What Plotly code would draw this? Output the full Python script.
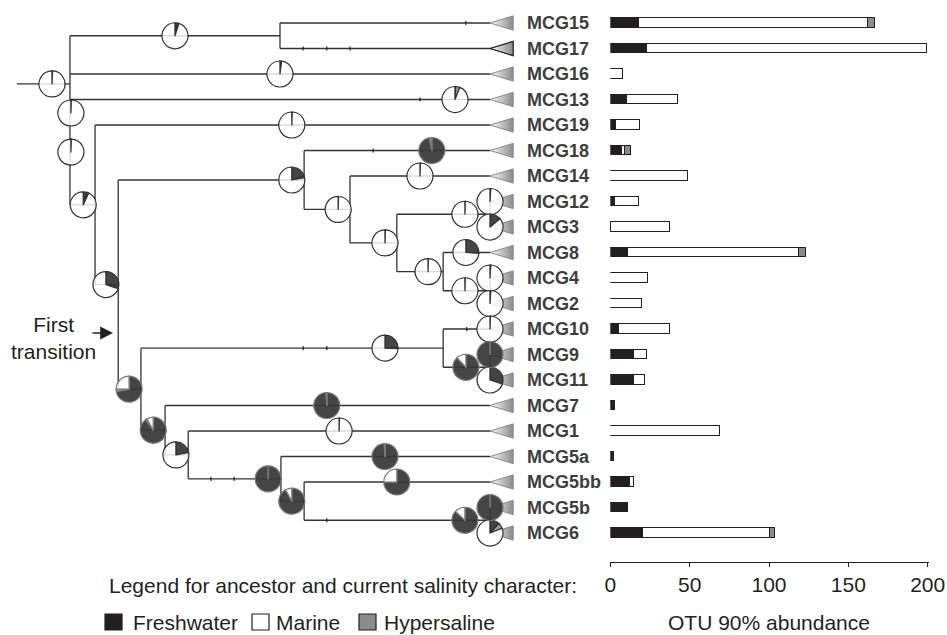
import plotly.graph_objects as go

# ---------------- data ----------------
labels = ["MCG15", "MCG17", "MCG16", "MCG13", "MCG19", "MCG18", "MCG14", "MCG12", "MCG3",
          "MCG8", "MCG4", "MCG2", "MCG10", "MCG9", "MCG11", "MCG7", "MCG1", "MCG5a",
          "MCG5bb", "MCG5b", "MCG6"]
freshwater = [18, 23, 0, 11, 4, 7.4, 0, 3.4, 0.5, 11.3, 0, 0, 5.5, 15, 15, 3.4, 0, 2.3, 12.4, 11.3, 20.8]
marine = [144.5, 177, 8, 32, 15, 1.9, 49, 15, 37.3, 108, 24, 20, 32.5, 8, 7, 0, 69.5, 0, 2.7, 0, 80.2]
hypersaline = [4.3, 0, 0, 0, 0, 4.2, 0, 0, 0, 4.5, 0, 0, 0, 0, 0, 0, 0, 0, 0, 0, 2.8]

# tree topology: child -> parent ; internal node depth (0 = root stub, 1 = tips)
parent = {
    "n70": "root",
    "n280": "n70", "MCG15": "n280", "MCG17": "n280",
    "MCG16": "n70", "MCG13": "n70", "n95": "n70",
    "MCG19": "n95", "n118": "n95",
    "n304a": "n118", "n141": "n118",
    "MCG18": "n304a", "n350": "n304a",
    "MCG14": "n350", "n397": "n350",
    "n490a": "n397", "n443": "n397",
    "MCG12": "n490a", "MCG3": "n490a",
    "MCG8": "n443", "n490b": "n443",
    "MCG4": "n490b", "MCG2": "n490b",
    "n443b": "n141", "n165": "n141",
    "MCG10": "n443b", "n490c": "n443b",
    "MCG9": "n490c", "MCG11": "n490c",
    "MCG7": "n165", "n188": "n165",
    "MCG1": "n188", "n281": "n188",
    "MCG5a": "n281", "n304b": "n281",
    "MCG5bb": "n304b", "n490d": "n304b",
    "MCG5b": "n490d", "MCG6": "n490d",
}
depth = {"root": 0.0, "n70": 0.112, "n280": 0.556, "n95": 0.165, "n118": 0.214, "n304a": 0.607,
         "n350": 0.704, "n397": 0.803, "n490a": 1.0, "n443": 0.901, "n490b": 1.0, "n141": 0.262,
         "n443b": 0.901, "n490c": 1.0, "n165": 0.313, "n188": 0.362, "n281": 0.558,
         "n304b": 0.607, "n490d": 1.0}
root_row = 2.39

# small tick marks along branches: (node whose branch, depth)
branch_ticks = [("MCG15", 0.949), ("MCG17", 0.605), ("MCG17", 0.655), ("MCG17", 0.704),
                ("MCG13", 0.852), ("MCG18", 0.753), ("MCG10", 0.951), ("n443b", 0.605),
                ("n443b", 0.655), ("n281", 0.410), ("n281", 0.459), ("n490d", 0.655)]

# ancestral / current salinity pies: (node or row, depth on branch, freshwater, hypersaline)
pies = [
    ("n70", 0.074, 0.0, 0.008), ("n280", 0.334, 0.03, 0.02), ("MCG16", 0.556, 0.005, 0.015),
    ("MCG13", 0.926, 0.01, 0.05), (3.53, 0.114, 0.0, 0.005), (5.06, 0.114, 0.0, 0.005),
    ("n95", 0.140, 0.05, 0.02), ("MCG19", 0.581, 0.005, 0.0), ("n304a", 0.581, 0.2, 0.02),
    ("MCG18", 0.877, 0.97, 0.03), ("MCG14", 0.852, 0.005, 0.0), ("n350", 0.679, 0.005, 0.0),
    ("n397", 0.778, 0.005, 0.0), ("n490a", 0.947, 0.005, 0.0), ("MCG12", 1.0, 0.0, 0.01),
    ("MCG3", 1.0, 0.13, 0.01), ("n443", 0.869, 0.005, 0.0), ("MCG8", 0.949, 0.25, 0.01),
    ("n490b", 0.947, 0.005, 0.0), ("MCG4", 1.0, 0.01, 0.0), ("MCG2", 1.0, 0.01, 0.0),
    ("n443b", 0.778, 0.25, 0.005), ("n490c", 0.949, 0.88, 0.0), ("MCG10", 1.0, 0.005, 0.0),
    ("MCG11", 1.0, 0.3, 0.0), ("MCG9", 1.0, 1.0, 0.0), ("MCG7", 0.655, 0.99, 0.01),
    ("n141", 0.237, 0.72, 0.03), ("n118", 0.188, 0.3, 0.0), ("n165", 0.288, 0.9, 0.02),
    ("n188", 0.336, 0.22, 0.0), ("MCG1", 0.681, 0.005, 0.0), ("n281", 0.531, 1.0, 0.0),
    ("n304b", 0.581, 0.92, 0.0), ("MCG5a", 0.778, 0.99, 0.01), ("MCG5bb", 0.803, 0.75, 0.0),
    ("n490d", 0.947, 0.87, 0.0), ("MCG6", 1.0, 0.12, 0.07), ("MCG5b", 1.0, 1.0, 0.0),
]

# ---------------- layout constants ----------------
W, H = 947, 635
ROW0_PX, ROW_PX, PLOT_BOTTOM_PX = 23.0, 25.5, 562.0
TREE_PX0, TREE_PX1 = 17.0, 490.0
BAR_PX0, BAR_PX_PER_UNIT = 610.3, 1.587
BAR_MAX = 201
PIE_R = 13
INK = "#231f20"
FONT = "Liberation Sans, Arial, Helvetica, sans-serif"

y_range = [(PLOT_BOTTOM_PX - ROW0_PX) / ROW_PX, -ROW0_PX / ROW_PX]
tree_span = TREE_PX1 - TREE_PX0
x2_range = [-TREE_PX0 / tree_span, (W - TREE_PX0) / tree_span]
bar_domain = [BAR_PX0 / W, (BAR_PX0 + BAR_MAX * BAR_PX_PER_UNIT) / W]

# ---------------- tree geometry ----------------
rows = {lab: i for i, lab in enumerate(labels)}
children = {}
for c, p in parent.items():
    children.setdefault(p, []).append(c)


def node_row(n):
    if n in rows:
        return rows[n]
    if n == "n70":
        return root_row
    ch = children[n]
    return sum(node_row(c) for c in ch) / len(ch)


def node_depth(n):
    return depth.get(n, 1.0)


lx, ly = [], []
for c, p in parent.items():
    r = node_row(c)
    lx += [node_depth(p), node_depth(c), None]
    ly += [r, r, None]
for p, ch in children.items():
    if p == "root":
        continue
    rr = [node_row(c) for c in ch]
    lx += [node_depth(p), node_depth(p), None]
    ly += [min(rr), max(rr), None]

fig = go.Figure()
fig.add_trace(go.Scatter(x=lx, y=ly, mode="lines", xaxis="x2", yaxis="y",
                         line=dict(color="#333333", width=1.3), hoverinfo="skip", showlegend=False))
fig.add_trace(go.Scatter(x=[d for _, d in branch_ticks], y=[node_row(n) for n, _ in branch_ticks],
                         mode="markers", xaxis="x2", yaxis="y",
                         marker=dict(symbol="line-ns", size=3, line=dict(color="#222222", width=1.2)),
                         hoverinfo="skip", showlegend=False))

# clade triangles
tx, ty = [], []
for i, lab in enumerate(labels):
    tx += [1.0, 1.049, 1.049, 1.0, None]
    ty += [i, i - 0.28, i + 0.28, i, None]
fig.add_trace(go.Scatter(x=tx, y=ty, mode="lines", fill="toself", xaxis="x2", yaxis="y",
                         fillgradient=dict(type="horizontal",
                                           colorscale=[[0, "#ffffff"], [1, "#8a8a8a"]]),
                         line=dict(color="#8a8a8a", width=1), hoverinfo="skip", showlegend=False))
i17 = labels.index("MCG17")
fig.add_trace(go.Scatter(x=[1.0, 1.049, 1.049, 1.0], y=[i17, i17 - 0.28, i17 + 0.28, i17],
                         mode="lines", xaxis="x2", yaxis="y", line=dict(color="#222222", width=1.2),
                         hoverinfo="skip", showlegend=False))

# pies
for ref, d, f, h in pies:
    r = node_row(ref) if isinstance(ref, str) else ref
    cx = TREE_PX0 + d * tree_span
    cy = ROW0_PX + r * ROW_PX
    m = max(0.0, 1.0 - f - h)
    outline = "#7a7a7a" if f > 0.5 else "#333333"
    fig.add_trace(go.Pie(
        values=[f, h, m], labels=["Freshwater", "Hypersaline", "Marine"],
        sort=False, direction="clockwise", rotation=0, textinfo="none", hoverinfo="skip",
        showlegend=False,
        marker=dict(colors=["rgba(55,55,55,0.93)", "rgba(150,150,150,0.92)", "rgba(255,255,255,0.82)"],
                    line=dict(color=outline, width=1.2)),
        domain=dict(x=[max(0, (cx - PIE_R) / W), min(1, (cx + PIE_R) / W)],
                    y=[max(0, 1 - (cy + PIE_R) / H), min(1, 1 - (cy - PIE_R) / H)]),
    ))

# stacked abundance bars
ys = list(range(len(labels)))
for name, vals, col in [("Freshwater", freshwater, INK), ("Marine", marine, "#ffffff"),
                        ("Hypersaline", hypersaline, "#8c8c8c")]:
    fig.add_trace(go.Bar(x=[v if v > 0 else None for v in vals], y=ys, orientation="h", name=name,
                         width=0.36, marker=dict(color=col, line=dict(color=INK, width=1.5)),
                         xaxis="x", yaxis="y", showlegend=False, hoverinfo="skip"))

annotations = []
for i, lab in enumerate(labels):
    annotations.append(dict(x=525 / W, xref="paper", y=i, yref="y", text=lab, showarrow=False,
                            xanchor="left", yanchor="middle",
                            font=dict(family=FONT, size=18, color="#3d3d3d", weight="bold")))
annotations += [
    dict(x=53 / W, y=1 - 338 / H, xref="paper", yref="paper", text="First<br>transition",
         showarrow=False, xanchor="center", yanchor="middle", font=dict(family=FONT, size=21, color=INK)),
    dict(x=113 / W, y=1 - 333 / H, xref="paper", yref="paper", text="", showarrow=True,
         ax=-22, ay=0, arrowhead=2, arrowsize=1.6, arrowwidth=1.6, arrowcolor=INK),
    dict(x=579 / W, y=1 - 585 / H, xref="paper", yref="paper",
         text="Legend for ancestor and current salinity character:", showarrow=False,
         xanchor="right", yanchor="middle", font=dict(family=FONT, size=21, color=INK)),
    dict(x=(BAR_PX0 + 100 * BAR_PX_PER_UNIT) / W, y=0, xref="paper", yref="paper",
         text="OTU 90% abundance", showarrow=False, xanchor="center", yanchor="bottom",
         borderpad=0, font=dict(family=FONT, size=21, color=INK)),
]
shapes = []
for name, col, x0, tx0 in [("Freshwater", INK, 105, 131), ("Marine", "#ffffff", 252, 274),
                           ("Hypersaline", "#8c8c8c", 359, 382)]:
    shapes.append(dict(type="rect", xref="paper", yref="paper", x0=x0 / W, x1=(x0 + 17) / W,
                       y0=1 - 630 / H, y1=1 - 614 / H, fillcolor=col, line=dict(color=INK, width=1.2)))
    annotations.append(dict(x=tx0 / W, y=1 - 622 / H, xref="paper", yref="paper", text=name,
                            showarrow=False, xanchor="left", yanchor="middle",
                            font=dict(family=FONT, size=21, color=INK)))

fig.update_layout(
    width=W, height=H, margin=dict(l=0, r=0, t=0, b=0),
    paper_bgcolor="white", plot_bgcolor="rgba(0,0,0,0)",
    barmode="stack", bargap=0, showlegend=False,
    xaxis=dict(domain=bar_domain, range=[0, BAR_MAX],
               anchor="y", tickvals=[0, 50, 100, 150, 200], showgrid=False, zeroline=False,
               showline=True, linecolor=INK, linewidth=1.3, ticks="outside", ticklen=4,
               tickcolor=INK, tickwidth=1.3, tickfont=dict(family=FONT, size=21, color=INK),
               automargin=False),
    xaxis2=dict(domain=[0, 1], range=x2_range, anchor="y", visible=False, fixedrange=True),
    yaxis=dict(domain=[1 - PLOT_BOTTOM_PX / H, 1], range=y_range, visible=False, anchor="x"),
    annotations=annotations, shapes=shapes,
)

fig.write_html("out.html", config={"displayModeBar": False},
               post_script="document.body.style.margin='0';document.body.style.overflow='hidden';")
